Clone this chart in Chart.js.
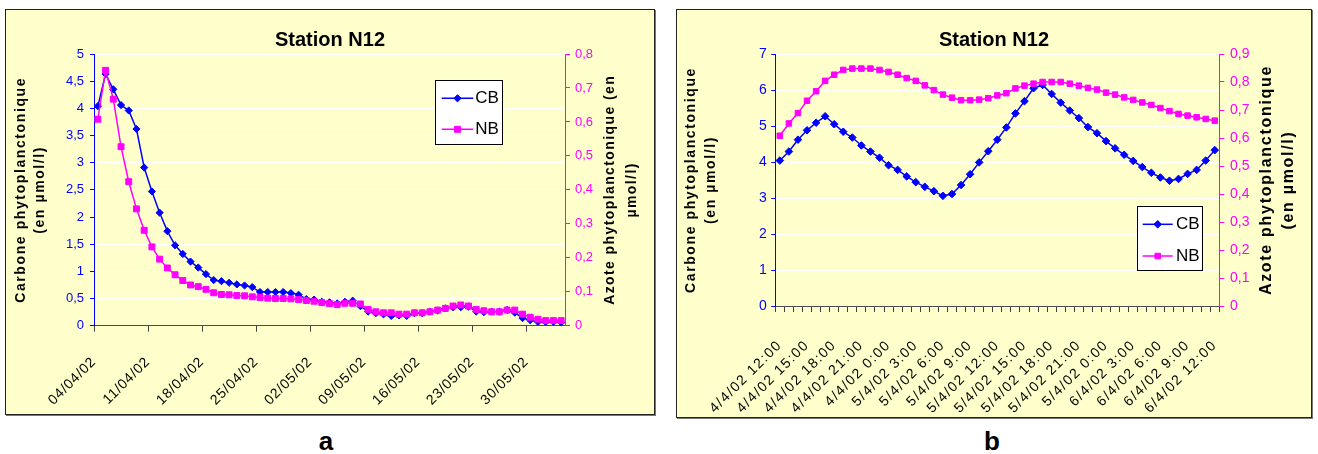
<!DOCTYPE html>
<html>
<head>
<meta charset="utf-8">
<script src="https://cdn.jsdelivr.net/npm/chart.js"></script>
<style>
  html, body { margin:0; padding:0; background:#fff; }
  body { width:1318px; height:454px; position:relative; overflow:hidden; font-family:"Liberation Sans", Arial, sans-serif; }
  .frame { position:absolute; box-sizing:border-box; border:1px solid #222; background:#FFFFCC; box-shadow:1px 1px 0 #777; }
  .frame canvas { display:block; }
  .lab { position:absolute; top:428px; font:bold 26px/26px "Liberation Sans", Arial, sans-serif; transform:translateX(-50%); color:#000; }
</style>
</head>
<body>
<div class="frame" style="left:5px;top:9px;width:650px;height:406px"><canvas id="ca" width="648" height="404"></canvas></div>
<div class="frame" style="left:676px;top:9px;width:636px;height:409px"><canvas id="cb" width="634" height="407"></canvas></div>
<div class="lab" style="left:326px">a</div>
<div class="lab" style="left:992px">b</div>
<script>
// ---------- Panel a data (daily) ----------
const datesA = ['04/04/02','05/04/02','06/04/02','07/04/02','08/04/02','09/04/02','10/04/02','11/04/02','12/04/02','13/04/02',
  '14/04/02','15/04/02','16/04/02','17/04/02','18/04/02','19/04/02','20/04/02','21/04/02','22/04/02','23/04/02',
  '24/04/02','25/04/02','26/04/02','27/04/02','28/04/02','29/04/02','30/04/02','01/05/02','02/05/02','03/05/02',
  '04/05/02','05/05/02','06/05/02','07/05/02','08/05/02','09/05/02','10/05/02','11/05/02','12/05/02','13/05/02',
  '14/05/02','15/05/02','16/05/02','17/05/02','18/05/02','19/05/02','20/05/02','21/05/02','22/05/02','23/05/02',
  '24/05/02','25/05/02','26/05/02','27/05/02','28/05/02','29/05/02','30/05/02','31/05/02','01/06/02','02/06/02',
  '03/06/02'];
const cbA = [4.04,4.63,4.35,4.06,3.96,3.62,2.91,2.47,2.08,1.74,
  1.48,1.32,1.18,1.07,0.95,0.84,0.82,0.79,0.76,0.74,
  0.71,0.62,0.62,0.62,0.62,0.60,0.57,0.49,0.48,0.44,
  0.43,0.41,0.44,0.46,0.36,0.26,0.23,0.21,0.18,0.19,
  0.18,0.23,0.23,0.26,0.28,0.32,0.34,0.34,0.35,0.26,
  0.25,0.26,0.26,0.29,0.24,0.14,0.10,0.07,0.07,0.07,
  0.06];
const nbA = [0.608,0.752,0.667,0.527,0.424,0.344,0.281,0.232,0.196,0.170,
  0.150,0.133,0.120,0.115,0.107,0.097,0.092,0.091,0.089,0.088,
  0.085,0.083,0.081,0.080,0.080,0.079,0.077,0.074,0.072,0.068,
  0.065,0.062,0.066,0.066,0.064,0.048,0.041,0.038,0.038,0.034,
  0.034,0.038,0.038,0.041,0.046,0.051,0.058,0.061,0.058,0.048,
  0.044,0.041,0.041,0.046,0.046,0.034,0.025,0.019,0.015,0.015,
  0.015];
const labelStepA = 7;

// ---------- Panel b data (hourly) ----------
const timesB = ['4/4/02 12:00','4/4/02 13:00','4/4/02 14:00','4/4/02 15:00','4/4/02 16:00','4/4/02 17:00','4/4/02 18:00',
  '4/4/02 19:00','4/4/02 20:00','4/4/02 21:00','4/4/02 22:00','4/4/02 23:00','4/4/02 0:00',
  '5/4/02 1:00','5/4/02 2:00','5/4/02 3:00','5/4/02 4:00','5/4/02 5:00','5/4/02 6:00','5/4/02 7:00','5/4/02 8:00',
  '5/4/02 9:00','5/4/02 10:00','5/4/02 11:00','5/4/02 12:00','5/4/02 13:00','5/4/02 14:00','5/4/02 15:00','5/4/02 16:00',
  '5/4/02 17:00','5/4/02 18:00','5/4/02 19:00','5/4/02 20:00','5/4/02 21:00','5/4/02 22:00','5/4/02 23:00','5/4/02 0:00',
  '6/4/02 1:00','6/4/02 2:00','6/4/02 3:00','6/4/02 4:00','6/4/02 5:00','6/4/02 6:00','6/4/02 7:00','6/4/02 8:00',
  '6/4/02 9:00','6/4/02 10:00','6/4/02 11:00','6/4/02 12:00'];
const cbB = [4.04,4.29,4.62,4.88,5.09,5.27,5.05,4.84,4.68,4.46,
  4.29,4.12,3.91,3.78,3.60,3.44,3.31,3.19,3.06,3.11,
  3.36,3.66,3.99,4.30,4.62,4.96,5.35,5.69,6.05,6.14,
  5.89,5.65,5.43,5.22,4.97,4.80,4.58,4.38,4.20,4.03,
  3.86,3.70,3.57,3.48,3.53,3.67,3.78,4.04,4.33];
const nbB = [0.608,0.652,0.689,0.733,0.767,0.804,0.826,0.843,0.848,0.848,
  0.848,0.843,0.836,0.826,0.814,0.804,0.788,0.771,0.755,0.744,
  0.735,0.735,0.737,0.742,0.752,0.760,0.777,0.787,0.794,0.800,
  0.800,0.800,0.794,0.787,0.779,0.773,0.762,0.755,0.745,0.736,
  0.727,0.718,0.707,0.696,0.686,0.680,0.674,0.668,0.662];
const labelStepB = 3;

const seriesNames = ['CB', 'NB'];
const titleText = 'Station N12';
const yTitleC = ['Carbone phytoplanctonique', '(en µmol/l)'];
const yTitleNa = ['Azote phytoplanctonique (en', 'µmol/l)'];
const yTitleNb = ['Azote phytoplanctonique', '(en µmol/l)'];

// ---------- helpers ----------
Chart.defaults.font.family = '"Liberation Sans", Arial, sans-serif';
const BLUE = '#0000FF', PINK = '#FF00FF';
const fmt = v => Number.isInteger(v) ? String(v) : Number(v).toFixed(1).replace('.', ',');

function patchScales(chart, cfg) {
  for (const id in cfg) {
    const s = chart.scales[id];
    if (!s || s._patched) continue;
    s._patched = true;
    const c = cfg[id];
    const oT = s.drawTitle, oL = s.drawLabels;
    s.drawTitle = function () {
      const ctx = this.ctx;
      ctx.save();
      ctx.letterSpacing = c.title || '0px';
      if (c.flip) {
        const f = Chart.helpers.toFont(this.options.title.font);
        const p = Chart.helpers.toPadding(this.options.title.padding);
        const n = Array.isArray(this.options.title.text) ? this.options.title.text.length : 1;
        const tx = this.right - p.top - f.lineHeight / 2;
        const cx = tx - f.lineHeight * (n - 1) / 2;
        const cy = (this.top + this.bottom) / 2;
        ctx.translate(cx, cy); ctx.rotate(Math.PI); ctx.translate(-cx, -cy);
      }
      oT.call(this);
      ctx.restore();
    };
    s.drawLabels = function (area) {
      const ctx = this.ctx;
      ctx.save();
      ctx.letterSpacing = c.labels || '0px';
      oL.call(this, area);
      ctx.restore();
    };
  }
}

const boxLegend = {
  id: 'boxLegend',
  afterDraw(chart, args, o) {
    const ctx = chart.ctx;
    ctx.save();
    ctx.letterSpacing = '0px';
    ctx.fillStyle = '#fff';
    ctx.fillRect(o.x, o.y, o.w, o.h);
    ctx.strokeStyle = '#000'; ctx.lineWidth = 1;
    ctx.strokeRect(Math.round(o.x) + 0.5, Math.round(o.y) + 0.5, Math.round(o.w), Math.round(o.h));
    chart.data.datasets.forEach((ds, i) => {
      const ry = o.y + o.rows[i];
      ctx.strokeStyle = ds.borderColor; ctx.lineWidth = ds.borderWidth;
      ctx.beginPath(); ctx.moveTo(o.x + o.lx0, ry); ctx.lineTo(o.x + o.lx1, ry); ctx.stroke();
      ctx.fillStyle = ds.pointBackgroundColor; ctx.strokeStyle = ds.pointBorderColor; ctx.lineWidth = 1;
      Chart.helpers.drawPoint(ctx, {pointStyle: ds.pointStyle, radius: ds.pointRadius, borderWidth: 1, rotation: 0},
        o.x + (o.lx0 + o.lx1) / 2, ry);
      ctx.fillStyle = '#000'; ctx.font = o.font; ctx.textBaseline = 'middle'; ctx.textAlign = 'left';
      ctx.fillText(ds.label, o.x + o.tx, ry);
    });
    ctx.restore();
  }
};

function makeDatasets(cb, nb, rD, rS) {
  return [
    { label: seriesNames[0], data: cb, yAxisID: 'y', borderColor: BLUE, backgroundColor: BLUE, borderWidth: 1.5,
      pointStyle: 'rectRot', pointRadius: rD, pointBackgroundColor: BLUE, pointBorderColor: BLUE, pointBorderWidth: 1,
      tension: 0, order: 1, clip: false },
    { label: seriesNames[1], data: nb, yAxisID: 'y2', borderColor: PINK, backgroundColor: PINK, borderWidth: 1.5,
      pointStyle: 'rect', pointRadius: rS, pointBackgroundColor: PINK, pointBorderColor: PINK, pointBorderWidth: 1,
      tension: 0, order: 0, clip: false }
  ];
}

function makeChart(canvasId, p) {
  const patchCfg = p.patch;
  return new Chart(document.getElementById(canvasId), {
    type: 'line',
    data: { labels: p.labels, datasets: makeDatasets(p.cb, p.nb, p.rD, p.rS) },
    options: {
      responsive: false, animation: false,
      layout: { padding: 0 },
      plugins: {
        legend: { display: false }, tooltip: { enabled: false },
        title: { display: true, text: titleText, color: '#000', font: { size: 20, weight: 'bold', lineHeight: 1.2 },
          padding: { top: 18, bottom: 2 } },
        boxLegend: p.legend
      },
      scales: {
        x: {
          type: 'category', offset: true,
          grid: { display: true, offset: true, drawOnChartArea: false, drawTicks: true, tickLength: 6, tickWidth: 1,
            tickColor: c => (c.index % p.step === 0 || p.allTicks) ? '#404040' : 'rgba(0,0,0,0)' },
          border: { color: '#4d4d4d', width: 1 },
          ticks: { autoSkip: false, maxRotation: 45, minRotation: 45, padding: p.xPad, labelOffset: p.xOff, color: '#000',
            font: { size: 14 },
            callback(v, i) { return i % p.step === 0 ? this.getLabelForValue(v) : ''; } },
          afterFit(s) { s.height = p.xH; }
        },
        y: {
          position: 'left', min: 0, max: p.yMax,
          ticks: { stepSize: p.yStep, color: BLUE, padding: p.yPad, font: { size: p.tickSize }, callback: v => fmt(v), maxTicksLimit: 30 },
          grid: { color: '#FFFFFF', lineWidth: 1, tickColor: BLUE, tickLength: 4 },
          border: { color: BLUE, width: 1 },
          title: { display: true, text: yTitleC, color: '#000', font: { size: 14, weight: 'bold', lineHeight: p.ylLH },
            padding: { top: p.ylTP, bottom: 0 } },
          afterFit(s) { s.width = p.yW; }
        },
        y2: {
          position: 'right', min: 0, max: p.y2Max,
          ticks: { stepSize: 0.1, color: PINK, padding: p.y2Pad, font: { size: p.tickSize }, callback: v => fmt(v), maxTicksLimit: 30 },
          grid: { drawOnChartArea: false, tickColor: PINK, tickLength: 5 },
          border: { color: PINK, width: 1 },
          title: { display: true, text: p.y2Title, color: '#000', font: { size: p.y2TS, weight: 'bold', lineHeight: p.y2LH },
            padding: { top: p.y2TP, bottom: 0 } },
          afterFit(s) { s.width = p.y2W; }
        }
      }
    },
    plugins: [boxLegend, { id: 'patch', afterLayout(chart) { patchScales(chart, patchCfg); } }]
  });
}

makeChart('ca', {
  labels: datesA, cb: cbA, nb: nbA, rD: 3.6, rS: 4.2, step: labelStepA, allTicks: false,
  xPad: 22, xOff: -4, xH: 88.3,
  yMax: 5, yStep: 0.5, yPad: 6, tickSize: 13, yW: 88, ylLH: '19px', ylTP: 5.2,
  y2Max: 0.8, y2Pad: 5, y2W: 89, y2Title: yTitleNa, y2TS: 14, y2LH: '21.5px', y2TP: 11.5,
  legend: { x: 429.3, y: 70, w: 66.7, h: 64.3, rows: [18.3, 49.3], lx0: 6.4, lx1: 38, tx: 40, font: '17px "Liberation Sans", Arial, sans-serif' },
  patch: { x: { labels: '0.8px' }, y: { title: '1.6px' }, y2: { title: '1.4px', flip: true } }
});

makeChart('cb', {
  labels: timesB, cb: cbB, nb: nbB, rD: 3.8, rS: 3.9, step: labelStepB, allTicks: true,
  xPad: 25, xOff: 0, xH: 111,
  yMax: 7, yStep: 1, yPad: 4.6, tickSize: 14, yW: 98.3, ylLH: '20px', ylTP: 3.7,
  y2Max: 0.9, y2Pad: 5.7, y2W: 91.7, y2Title: yTitleNb, y2TS: 16, y2LH: '21.6px', y2TP: 11.9,
  legend: { x: 459.7, y: 196, w: 64.6, h: 64, rows: [18.3, 50], lx0: 6, lx1: 36, tx: 39.3, font: '17px "Liberation Sans", Arial, sans-serif' },
  patch: { x: { labels: '1.5px' }, y: { title: '1.6px' }, y2: { title: '1.7px', flip: true } }
});
</script>
</body>
</html>
